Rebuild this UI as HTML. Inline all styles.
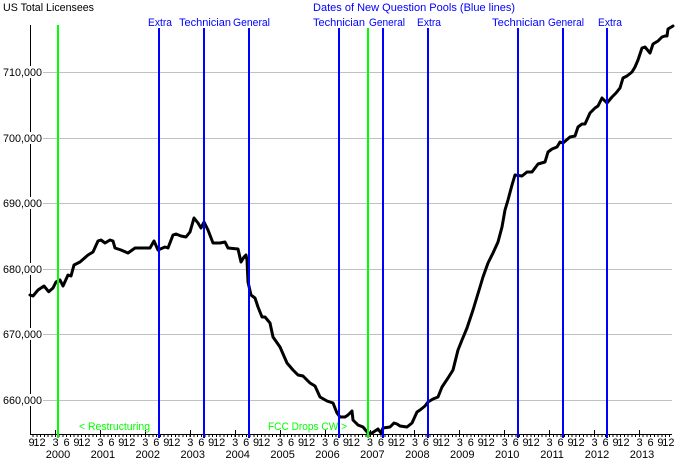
<!DOCTYPE html>
<html><head><meta charset="utf-8"><style>
html,body{margin:0;padding:0;background:#fff;}
svg{display:block;}
text{font-family:"Liberation Sans",Arial,sans-serif;font-size:11px;}
</style></head><body>
<svg width="700" height="464" viewBox="0 0 700 464" xmlns="http://www.w3.org/2000/svg">
<rect width="700" height="464" fill="#fff"/>
<!-- gridlines -->
<g stroke="#c0c0c0" stroke-width="1" shape-rendering="crispEdges">
<line x1="30" y1="72.5" x2="672" y2="72.5"/>
<line x1="30" y1="138.5" x2="672" y2="138.5"/>
<line x1="30" y1="203.5" x2="672" y2="203.5"/>
<line x1="30" y1="269.5" x2="672" y2="269.5"/>
<line x1="30" y1="334.5" x2="672" y2="334.5"/>
<line x1="30" y1="400.5" x2="672" y2="400.5"/>
</g>
<!-- axes -->
<g shape-rendering="crispEdges">
<line x1="30.5" y1="25" x2="30.5" y2="434" stroke="#000" stroke-width="1"/>
<line x1="30" y1="434.5" x2="672" y2="434.5" stroke="#000" stroke-width="1"/>
<line x1="30" y1="436" x2="672" y2="436" stroke="#000" stroke-width="2" stroke-dasharray="1 2.743" stroke-dashoffset="1.2"/>
<g stroke="#000" stroke-width="1">
<line x1="55.5" y1="430" x2="55.5" y2="437"/>
<line x1="100.5" y1="430" x2="100.5" y2="437"/>
<line x1="145.5" y1="430" x2="145.5" y2="437"/>
<line x1="190.5" y1="430" x2="190.5" y2="437"/>
<line x1="235.5" y1="430" x2="235.5" y2="437"/>
<line x1="280.5" y1="430" x2="280.5" y2="437"/>
<line x1="325.5" y1="430" x2="325.5" y2="437"/>
<line x1="370.5" y1="430" x2="370.5" y2="437"/>
<line x1="414.5" y1="430" x2="414.5" y2="437"/>
<line x1="459.5" y1="430" x2="459.5" y2="437"/>
<line x1="504.5" y1="430" x2="504.5" y2="437"/>
<line x1="549.5" y1="430" x2="549.5" y2="437"/>
<line x1="594.5" y1="430" x2="594.5" y2="437"/>
<line x1="639.5" y1="430" x2="639.5" y2="437"/>
</g>
</g>
<!-- y labels -->
<g fill="#fff">
<rect x="2" y="66" width="41" height="12"/>
<rect x="2" y="132" width="41" height="12"/>
<rect x="2" y="197" width="41" height="12"/>
<rect x="2" y="263" width="41" height="12"/>
<rect x="2" y="328" width="41" height="12"/>
<rect x="2" y="394" width="41" height="12"/>
</g>
<g fill="#000">
<text x="3" y="76" textLength="39" lengthAdjust="spacingAndGlyphs">710,000</text>
<text x="3" y="142" textLength="39" lengthAdjust="spacingAndGlyphs">700,000</text>
<text x="3" y="207" textLength="39" lengthAdjust="spacingAndGlyphs">690,000</text>
<text x="3" y="273" textLength="39" lengthAdjust="spacingAndGlyphs">680,000</text>
<text x="3" y="338" textLength="39" lengthAdjust="spacingAndGlyphs">670,000</text>
<text x="3" y="404" textLength="39" lengthAdjust="spacingAndGlyphs">660,000</text>
</g>
<!-- data curve -->
<polyline fill="none" stroke="#000" stroke-width="3" stroke-linejoin="round" stroke-linecap="round" points="
30,295 33,296 38,290 44,286 48.7,291.7 53,288 56,282 60,280 63,286 68,275 71,276 74,265 80,262 88,255 93,252 98,241 101,240 105,243 110,240 113,241 115,248 121,250 128,253 135,248 141,248 150,248 154,241 158,250 165,247 168,248 173,235 176,234 181,236 186,237 190,232 194,218 198,223 201,228 204,222 208,230 213,243 220,243 225,242 228,248 238,249 241,262 244,257 246,255 247,260 248,282 251,295 255,298 258,307 262,317 265,317 270,323 273,337 280,347 287,363 293,370 298,375 303,376 310,383 315,386 320,397 327,401 333,403 337,413 340,417 345,417 348,415 352,411 353,420 358,425 363,427 368,433 372,433 375,431 378,429 381,433 383,428 390,427 394,423 397,424 400,426 407,427 412,423 417,412 420,410 425,406 428,402 433,399 438,397 442,387 448,378 453,370 458,350 462,340 467,328 473,310 480,287 483,277 488,263 493,253 498,242 502,227 505,210 508,200 512,185 515,175 522,176 527,172 532,172 538,164 545,162 548,152 552,149 557,147 560,142 563,143 570,137 575,136 578,127 582,124 585,124 590,113 595,108 598,106 602,98 607,103 612,97 616,93 620,88 623,78 627,76 632,72 635,67 638,60 642,48 645,47 650,53 653,44 658,41 662,37 665,36 667,36 668,29 673,26"/>
<!-- vertical lines -->
<g stroke="#00ff00" stroke-width="2" shape-rendering="crispEdges">
<line x1="58" y1="25" x2="58" y2="438"/>
<line x1="368" y1="28" x2="368" y2="438"/>
</g>
<g stroke="#0000ff" stroke-width="2" shape-rendering="crispEdges">
<line x1="159" y1="28" x2="159" y2="438"/>
<line x1="204" y1="28" x2="204" y2="438"/>
<line x1="249" y1="28" x2="249" y2="438"/>
<line x1="339" y1="28" x2="339" y2="438"/>
<line x1="383" y1="28" x2="383" y2="438"/>
<line x1="428" y1="28" x2="428" y2="438"/>
<line x1="518" y1="28" x2="518" y2="438"/>
<line x1="563" y1="28" x2="563" y2="438"/>
<line x1="607" y1="28" x2="607" y2="438"/>
</g>
<!-- top labels -->
<text x="3" y="11" fill="#000" textLength="91" lengthAdjust="spacingAndGlyphs">US Total Licensees</text>
<g fill="#0000ff">
<text x="313" y="11" textLength="202" lengthAdjust="spacingAndGlyphs">Dates  of New  Question  Pools (Blue lines)</text>
<text x="148" y="26" textLength="24" lengthAdjust="spacingAndGlyphs">Extra</text>
<text x="179" y="26" textLength="52" lengthAdjust="spacingAndGlyphs">Technician</text>
<text x="233" y="26" textLength="37" lengthAdjust="spacingAndGlyphs">General</text>
<text x="313" y="26" textLength="52" lengthAdjust="spacingAndGlyphs">Technician</text>
<text x="369" y="26" textLength="36" lengthAdjust="spacingAndGlyphs">General</text>
<text x="417" y="26" textLength="24" lengthAdjust="spacingAndGlyphs">Extra</text>
<text x="492" y="26" textLength="53" lengthAdjust="spacingAndGlyphs">Technician</text>
<text x="548" y="26" textLength="36" lengthAdjust="spacingAndGlyphs">General</text>
<text x="598" y="26" textLength="24" lengthAdjust="spacingAndGlyphs">Extra</text>
</g>
<!-- green annotations -->
<g fill="#00ff00">
<text x="79" y="430" textLength="71" lengthAdjust="spacingAndGlyphs">&lt; Restructuring</text>
<text x="268" y="430" textLength="79" lengthAdjust="spacingAndGlyphs">FCC Drops CW &gt;</text>
</g>
<!-- month labels -->
<g fill="#000" text-anchor="middle">
<text x="31.5" y="446">9</text><text x="39.5" y="446">12</text><text x="55.5" y="446">3</text><text x="66.5" y="446">6</text>
<text x="76.4" y="446">9</text><text x="84.4" y="446">12</text><text x="100.4" y="446">3</text><text x="111.4" y="446">6</text>
<text x="121.3" y="446">9</text><text x="129.3" y="446">12</text><text x="145.3" y="446">3</text><text x="156.3" y="446">6</text>
<text x="166.3" y="446">9</text><text x="174.3" y="446">12</text><text x="190.3" y="446">3</text><text x="201.3" y="446">6</text>
<text x="211.2" y="446">9</text><text x="219.2" y="446">12</text><text x="235.2" y="446">3</text><text x="246.2" y="446">6</text>
<text x="256.1" y="446">9</text><text x="264.1" y="446">12</text><text x="280.1" y="446">3</text><text x="291.1" y="446">6</text>
<text x="301" y="446">9</text><text x="309" y="446">12</text><text x="325" y="446">3</text><text x="336" y="446">6</text>
<text x="345.9" y="446">9</text><text x="353.9" y="446">12</text><text x="369.9" y="446">3</text><text x="380.9" y="446">6</text>
<text x="390.9" y="446">9</text><text x="398.9" y="446">12</text><text x="414.9" y="446">3</text><text x="425.9" y="446">6</text>
<text x="435.8" y="446">9</text><text x="443.8" y="446">12</text><text x="459.8" y="446">3</text><text x="470.8" y="446">6</text>
<text x="480.7" y="446">9</text><text x="488.7" y="446">12</text><text x="504.7" y="446">3</text><text x="515.7" y="446">6</text>
<text x="525.6" y="446">9</text><text x="533.6" y="446">12</text><text x="549.6" y="446">3</text><text x="560.6" y="446">6</text>
<text x="570.5" y="446">9</text><text x="578.5" y="446">12</text><text x="594.5" y="446">3</text><text x="605.5" y="446">6</text>
<text x="615.5" y="446">9</text><text x="623.5" y="446">12</text><text x="639.5" y="446">3</text><text x="650.5" y="446">6</text>
<text x="660.4" y="446">9</text><text x="668.4" y="446">12</text>
</g>
<!-- year labels -->
<g fill="#000" text-anchor="middle">
<text x="58" y="458">2000</text>
<text x="102.9" y="458">2001</text>
<text x="147.8" y="458">2002</text>
<text x="192.8" y="458">2003</text>
<text x="237.7" y="458">2004</text>
<text x="282.6" y="458">2005</text>
<text x="327.5" y="458">2006</text>
<text x="372.4" y="458">2007</text>
<text x="417.4" y="458">2008</text>
<text x="462.3" y="458">2009</text>
<text x="507.2" y="458">2010</text>
<text x="552.1" y="458">2011</text>
<text x="597" y="458">2012</text>
<text x="642" y="458">2013</text>
</g>
</svg>
</body></html>
